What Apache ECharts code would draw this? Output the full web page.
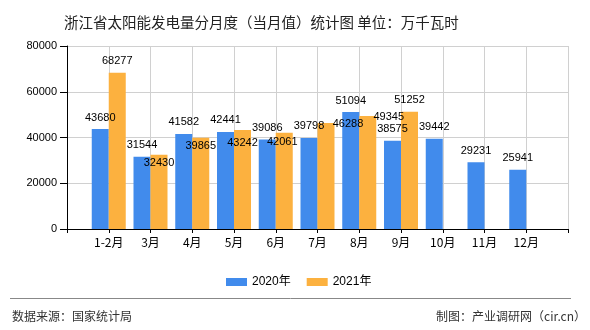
<!DOCTYPE html>
<html>
<head>
<meta charset="utf-8">
<script src="https://cdn.jsdelivr.net/npm/echarts@6/dist/echarts.min.js"></script>
<style>html,body{margin:0;padding:0;background:#fff;}#c{width:590px;height:330px;}</style>
</head>
<body>
<div id="c"></div>
<script>
var categories = ['1-2月','3月','4月','5月','6月','7月','8月','9月','10月','11月','12月'];
var values2020 = [43680, 31544, 41582, 42441, 39086, 39798, 51094, 38575, 39442, 29231, 25941];
var values2021 = [68277, 32430, 39865, 43242, 42061, 46288, 49345, 51252];
var yTicks = [0, 20000, 40000, 60000, 80000];

// label nudges for the 2021 series (style only, index-aligned with categories)
var labelNudge2021 = [[0,0],[0,20],[0,20],[0,24],[-2,21],[22,12],[21,12],[0,0]];

var FONT = '"Noto Sans CJK SC", "Liberation Sans", sans-serif';
var NUMFONT = '"Liberation Sans", "Noto Sans CJK SC", sans-serif';

var xData = [''].concat(categories).concat(['']);
function pad(arr){
  var out = [null];
  for (var i = 0; i < categories.length; i++) out.push(i < arr.length ? arr[i] : null);
  out.push(null);
  return out;
}
var d2020 = pad(values2020);
var d2021 = pad(values2021).map(function(v, i){
  if (v == null) return null;
  var n = labelNudge2021[i-1] || [0,0];
  return { value: v, label: { offset: n } };
});

var chart = echarts.init(document.getElementById('c'), null, {renderer:'canvas'});
chart.setOption({
  animation: false,
  backgroundColor: '#fff',
  title: {
    text: '浙江省太阳能发电量分月度（当月值）统计图 单位：万千瓦时',
    left: 59, top: 10,
    textStyle: { fontSize: 14.5, fontWeight: 'normal', color: '#222', fontFamily: FONT }
  },
  legend: {
    left: 221, top: 271,
    itemWidth: 21, itemHeight: 8, itemGap: 16,
    icon: 'rect',
    textStyle: { fontSize: 12, color: '#000', fontFamily: NUMFONT },
    data: ['2020年','2021年']
  },
  grid: { left: 67, right: 22, top: 46, bottom: 101, containLabel: false },
  xAxis: {
    type: 'category',
    data: xData,
    boundaryGap: false,
    axisLine: { show: true, lineStyle: { color: '#000', width: 1 } },
    axisTick: { show: true, length: 4, interval: 0, lineStyle: { color: '#000' } },
    axisLabel: { interval: 0, color: '#000', fontSize: 12, margin: 7, fontFamily: FONT },
    splitLine: { show: true, interval: 0, lineStyle: { color: '#d0d0d0', width: 1 } }
  },
  yAxis: {
    type: 'value',
    min: yTicks[0], max: yTicks[yTicks.length-1], interval: yTicks[1]-yTicks[0],
    axisLine: { show: true, lineStyle: { color: '#000', width: 1 } },
    axisTick: { show: true, length: 7, lineStyle: { color: '#000' } },
    axisLabel: { color: '#000', fontSize: 11, margin: 10, fontFamily: NUMFONT,
      formatter: function(v){ return String(v); } },
    splitLine: { show: true, lineStyle: { color: '#d0d0d0', width: 1 } }
  },
  series: [
    {
      name: '2020年', type: 'bar', data: d2020,
      barWidth: 17, barGap: '0%',
      itemStyle: { color: '#418BEC' },
      label: { show: true, position: 'top', distance: 6, color: '#000', fontSize: 11, fontFamily: NUMFONT }
    },
    {
      name: '2021年', type: 'bar', data: d2021,
      barWidth: 17, barGap: '0%',
      itemStyle: { color: '#FCB13F' },
      label: { show: true, position: 'top', distance: 6, color: '#000', fontSize: 11, fontFamily: NUMFONT }
    }
  ],
  graphic: [
    { type: 'line', shape: { x1: 10, y1: 298.5, x2: 571, y2: 298.5 }, style: { stroke: '#888', lineWidth: 1 } },
    { type: 'text', left: 12, top: 310, style: { text: '数据来源：国家统计局', fontSize: 12, fill: '#333', fontFamily: FONT } },
    { type: 'text', right: 4, top: 310, style: { text: '制图：产业调研网（cir.cn）', fontSize: 12, fill: '#333', fontFamily: FONT } }
  ]
});
</script>
</body>
</html>
